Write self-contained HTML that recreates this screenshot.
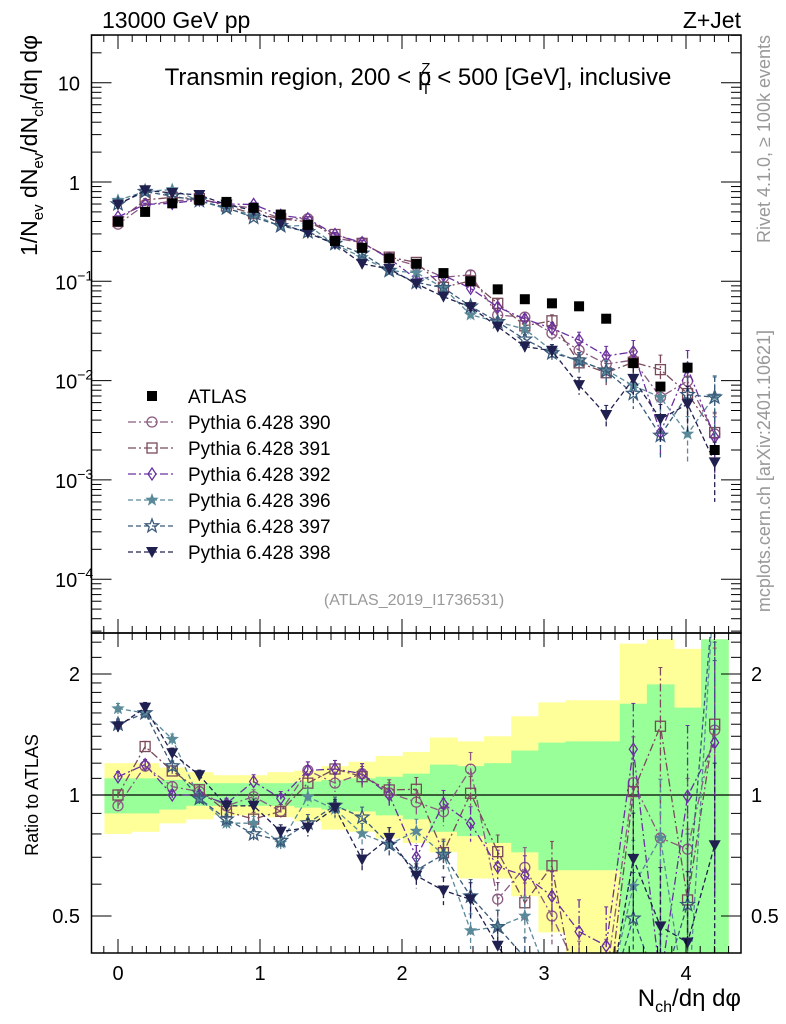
<!DOCTYPE html>
<html><head><meta charset="utf-8"><style>
html,body{margin:0;background:#fff;overflow:hidden;width:786px;height:1024px}
svg{display:block;font-family:"Liberation Sans",sans-serif}
</style></head><body>
<svg id="c" width="786" height="1024" viewBox="0 0 786 1024"></svg>
<script>
const xs=[0,0.191,0.382,0.573,0.764,0.955,1.146,1.337,1.528,1.719,1.91,2.101,2.292,2.483,2.674,2.865,3.056,3.247,3.438,3.629,3.82,4.011,4.202];
const atlas=[0.40,0.50,0.61,0.66,0.63,0.55,0.47,0.37,0.255,0.217,0.17,0.15,0.121,0.10,0.083,0.066,0.060,0.056,0.042,0.015,0.0087,0.0135,0.0020];
const p390=[0.376,0.59,0.64,0.673,0.592,0.545,0.428,0.426,0.273,0.245,0.172,0.144,0.110,0.116,0.0457,0.0436,0.030,0.0202,0.0147,0.0161,0.0068,0.0099,0.0029];
const p391=[0.40,0.66,0.70,0.68,0.573,0.479,0.428,0.396,0.296,0.241,0.175,0.155,0.087,0.101,0.060,0.0356,0.040,0.0151,0.012,0.0153,0.0129,0.0074,0.0030];
const p392=[0.444,0.595,0.61,0.66,0.60,0.594,0.461,0.426,0.296,0.245,0.17,0.105,0.115,0.085,0.055,0.0416,0.0336,0.0256,0.0177,0.0195,0.0030,0.0134,0.0027];
const p396=[0.656,0.80,0.84,0.647,0.536,0.468,0.357,0.366,0.235,0.174,0.128,0.122,0.086,0.046,0.039,0.033,0.020,0.0155,0.0128,0.0089,0.0068,0.0029,0.0070];
const p397=[0.60,0.80,0.72,0.647,0.548,0.44,0.362,0.315,0.24,0.191,0.128,0.0975,0.086,0.056,0.039,0.026,0.019,0.016,0.0125,0.0074,0.0028,0.0072,0.0068];
const p398=[0.592,0.825,0.775,0.739,0.592,0.517,0.381,0.307,0.237,0.150,0.133,0.0945,0.070,0.055,0.035,0.022,0.020,0.0090,0.0045,0.0104,0.0041,0.0058,0.0015];
const errRel=[0.03,0.03,0.03,0.03,0.03,0.04,0.04,0.05,0.05,0.06,0.06,0.07,0.08,0.1,0.1,0.12,0.15,0.2,0.25,0.3,0.4,0.5,0.6];
const yelUp=[1.20,1.20,1.17,1.14,1.12,1.12,1.14,1.15,1.18,1.21,1.25,1.28,1.39,1.36,1.40,1.57,1.70,1.72,1.72,2.38,2.44,2.31,2.44];
const yelDn=[0.80,0.81,0.85,0.87,0.89,0.89,0.88,0.86,0.82,0.81,0.78,0.76,0.72,0.62,0.62,0.56,0.455,0.40,0.40,0.40,0.40,0.40,0.40];
const grnUp=[1.10,1.10,1.09,1.07,1.07,1.07,1.07,1.08,1.09,1.10,1.11,1.13,1.19,1.18,1.20,1.29,1.35,1.36,1.36,1.687,1.885,1.65,2.44];
const grnDn=[0.90,0.90,0.92,0.94,0.94,0.94,0.94,0.93,0.92,0.91,0.89,0.87,0.81,0.79,0.76,0.72,0.65,0.65,0.65,0.40,0.40,0.40,0.40];
const xTicks=[0,1,2,3,4];
const seriesNames=["390","391","392","396","397","398"];

const NS="http://www.w3.org/2000/svg";
const svg=document.getElementById('c');
const L=91.5,R=741,T=35,M=633,B=953;
const X=v=>118+142*v;
const Y=v=>182-99.3*Math.log10(v);
const RY=r=>795-121*Math.log2(r);
function el(tag,attrs,parent){const e=document.createElementNS(NS,tag);for(const k in attrs)e.setAttribute(k,attrs[k]);(parent||svg).appendChild(e);return e;}
const series=[
 {d:p390,c:"#8a5a80",m:"circle",dash:"8,3,2,3"},
 {d:p391,c:"#7a4a5a",m:"square",dash:"8,3,2,3"},
 {d:p392,c:"#6a30a0",m:"diamond",dash:"8,3,2,3"},
 {d:p396,c:"#5a8a9a",m:"starf",dash:"5,3"},
 {d:p397,c:"#3a5a7a",m:"staro",dash:"5,3"},
 {d:p398,c:"#202050",m:"tri",dash:"5,3"}];
function starPts(cx,cy,r){let p=[];for(let k=0;k<10;k++){const a=-Math.PI/2+k*Math.PI/5;const rr=k%2?r*0.42:r;p.push((cx+rr*Math.cos(a)).toFixed(1)+","+(cy+rr*Math.sin(a)).toFixed(1));}return p.join(" ");}
function marker(g,m,x,y,c){
 if(m==="circle")return el('circle',{cx:x,cy:y,r:5,fill:"none",stroke:c,"stroke-width":1.3},g);
 if(m==="square")return el('rect',{x:x-5,y:y-5,width:10,height:10,fill:"none",stroke:c,"stroke-width":1.3},g);
 if(m==="diamond")return el('polygon',{points:`${x},${y-6} ${x+4},${y} ${x},${y+6} ${x-4},${y}`,fill:"none",stroke:c,"stroke-width":1.3},g);
 if(m==="starf")return el('polygon',{points:starPts(x,y,7),fill:c},g);
 if(m==="staro")return el('polygon',{points:starPts(x,y,7),fill:"none",stroke:c,"stroke-width":1.3},g);
 if(m==="tri")return el('polygon',{points:`${x-6},${y-5} ${x+6},${y-5} ${x},${y+6}`,fill:c},g);
 if(m==="sq")return el('rect',{x:x-5,y:y-5,width:10,height:10,fill:c},g);
}
const clampM=y=>Math.max(T,Math.min(M,y));
const clampR=y=>Math.max(M,Math.min(B,y));
const defs=el('defs',{});
const cp1=el('clipPath',{id:"cm"},defs);el('rect',{x:L,y:T,width:R-L,height:M-T},cp1);
const cp2=el('clipPath',{id:"cr"},defs);el('rect',{x:L,y:M,width:R-L,height:B-M},cp2);

const bands=el('g',{"clip-path":"url(#cr)"});


const hw=0.0955;
xs.forEach((x,i)=>{
 const y1=clampR(RY(yelUp[i])),y2=clampR(RY(yelDn[i]));
 const b=el('rect',{x:X(x-hw),y:y1,width:X(x+hw)-X(x-hw)+0.5,height:y2-y1,fill:"#ffff99"},bands);
 
 
});
xs.forEach((x,i)=>{
 const y1=clampR(RY(grnUp[i])),y2=clampR(RY(grnDn[i]));
 const b=el('rect',{x:X(x-hw),y:y1,width:X(x+hw)-X(x-hw)+0.5,height:y2-y1,fill:"#99ff99"},bands);
 
 
});
el('line',{x1:L,x2:R,y1:RY(1),y2:RY(1),stroke:"#000","stroke-width":1.3},bands);

const gm=el('g',{"clip-path":"url(#cm)"});
const gr=el('g',{"clip-path":"url(#cr)"});
series.forEach((s,si)=>{
 [[gm,s.d],[gr,s.d.map((v,i)=>v/atlas[i])]].forEach(([g,vals],pi)=>{
  const yy=pi===0?(v=>Y(v)):(v=>RY(v));
  const cl=pi===0?clampM:clampR;
  const sg=el('g',{},g);
  
  
  el('polyline',{points:xs.map((x,i)=>X(x)+","+Math.max(5,Math.min(1015,yy(vals[i]))).toFixed(1)).join(" "),fill:"none",stroke:s.c,"stroke-width":1.3,"stroke-dasharray":s.dash},sg);
  xs.forEach((x,i)=>{
   const v=vals[i],e=errRel[i];
   const y1=cl(yy(v*(1+e))),y2=cl(yy(Math.max(v*(1-e),1e-9)));
   el('line',{x1:X(x),x2:X(x),y1:y1,y2:y2,stroke:s.c,"stroke-width":1.3,"stroke-dasharray":s.dash},sg);
   el('line',{x1:X(x)-2,x2:X(x)+2,y1:y1,y2:y1,stroke:s.c,"stroke-width":1},sg);
   const py=yy(v);
   if(py<T-10||py>(pi===0?M:B)+10)return;
   const mk=marker(sg,s.m,X(x),py,s.c);
   
   
  });
 });
});
const ga=el('g',{"clip-path":"url(#cm)"});


xs.forEach((x,i)=>{
 const m=marker(ga,"sq",X(x),Y(atlas[i]),"#000");
 
 
});

el('rect',{x:L,y:T,width:R-L,height:M-T,fill:"none",stroke:"#000","stroke-width":1.5});
el('rect',{x:L,y:M,width:R-L,height:B-M,fill:"none",stroke:"#000","stroke-width":1.5});
const ticks=el('g',{stroke:"#000","stroke-width":1});
for(let k=-1;k<=46;k++){const v=k*0.1;const x=X(v);if(x<L||x>R)continue;const big=k%10===0;const len=big?14:7;
 [T,M,B].forEach(yb=>{el('line',{x1:x,x2:x,y1:yb,y2:yb+(yb===T||yb===M?len:-len)},ticks);if(yb===M)el('line',{x1:x,x2:x,y1:M,y2:M-len},ticks);});
}
for(let d=-5;d<=1;d++){for(let m=1;m<=9;m++){const v=m*Math.pow(10,d);const y=Y(v);if(y<T||y>M)continue;const len=m===1?20:10;
 el('line',{x1:L,x2:L+len,y1:y,y2:y},ticks);el('line',{x1:R,x2:R-len,y1:y,y2:y},ticks);}}
[0.5,1,2].forEach(v=>{const y=RY(v);el('line',{x1:L,x2:L+20,y1:y,y2:y},ticks);el('line',{x1:R,x2:R-20,y1:y,y2:y},ticks);});
[0.6,0.7,0.8,0.9,1.1,1.2,1.3,1.4,1.5,1.6,1.7,1.8,1.9,2.2,2.4].forEach(v=>{const y=RY(v);el('line',{x1:L,x2:L+10,y1:y,y2:y},ticks);el('line',{x1:R,x2:R-10,y1:y,y2:y},ticks);});
function txt(s,a,name){const t=el('text',a);t.innerHTML=s;return t;}
xTicks.forEach(v=>txt(String(v),{x:X(v),y:980,"font-size":20,"text-anchor":"middle"},'x-tick-label'));
const yLab=[[1,"10"],[0,"1"],[-1,"10<tspan font-size='14' dy='-9'>−1</tspan>"],[-2,"10<tspan font-size='14' dy='-9'>−2</tspan>"],[-3,"10<tspan font-size='14' dy='-9'>−3</tspan>"],[-4,"10<tspan font-size='14' dy='-9'>−4</tspan>"]];
yLab.forEach(([d,s])=>txt(s,{x:d>=0?80:55,y:Y(Math.pow(10,d))+8,"font-size":20,"text-anchor":d>=0?"end":"start"},'y-tick-label'));
[[2,"2"],[1,"1"],[0.5,"0.5"]].forEach(([v,s])=>{txt(s,{x:80,y:RY(v)+7,"font-size":20,"text-anchor":"end"},'ratio-tick-label-left');txt(s,{x:751,y:RY(v)+7,"font-size":20},'ratio-tick-label-right');});
txt("13000 GeV pp",{x:102,y:28,"font-size":23},'energy-label');
txt("Z+Jet",{x:741,y:28,"font-size":23,"text-anchor":"end"},'process-label');
txt("Transmin region, 200 &lt; p<tspan font-size='15' dx='-10' dy='-12'>Z</tspan><tspan font-size='15' dx='-9' dy='21'>T</tspan><tspan dy='-9'> &lt; 500 [GeV], inclusive</tspan>",{x:418,y:85,"font-size":24,"text-anchor":"middle"},'plot-title');
txt("(ATLAS_2019_I1736531)",{x:414,y:605,"font-size":16,fill:"#999","text-anchor":"middle"},'analysis-id');
txt("1/N<tspan font-size='15' dy='6'>ev</tspan><tspan dy='-6'> dN</tspan><tspan font-size='15' dy='6'>ev</tspan><tspan dy='-6'>/dN</tspan><tspan font-size='15' dy='6'>ch</tspan><tspan dy='-6'>/dη dφ</tspan>",{x:0,y:0,"font-size":23,"text-anchor":"end",transform:"translate(37,35) rotate(-90)"},'y-axis-title');
txt("Ratio to ATLAS",{x:0,y:0,"font-size":18,"text-anchor":"middle",transform:"translate(38,795) rotate(-90)"},'ratio-axis-title');
txt("N<tspan font-size='16' dy='6'>ch</tspan><tspan dy='-6'>/dη dφ</tspan>",{x:741,y:1006,"font-size":24,"text-anchor":"end"},'x-axis-title');
txt("Rivet 4.1.0, ≥ 100k events",{x:0,y:0,"font-size":18,fill:"#999","text-anchor":"end",transform:"translate(770,35) rotate(-90)"},'rivet-label');
txt("mcplots.cern.ch [arXiv:2401.10621]",{x:0,y:0,"font-size":18,fill:"#999","text-anchor":"end",transform:"translate(770,330) rotate(-90)"},'mcplots-label');
const lg=el('g',{});


const ly0=396;
marker(lg,"sq",152,ly0,"#000");
txt("ATLAS",{x:188,y:ly0+7,"font-size":19},'legend-entry-atlas');
series.forEach((s,si)=>{const y=ly0+26*(si+1);
 el('line',{x1:128,x2:176,y1:y,y2:y,stroke:s.c,"stroke-width":1.3,"stroke-dasharray":s.dash},lg);
 marker(lg,s.m,152,y,s.c);
 txt("Pythia 6.428 "+seriesNames[si],{x:188,y:y+7,"font-size":19},'legend-entry-'+seriesNames[si]);
});
</script>
</body></html>
